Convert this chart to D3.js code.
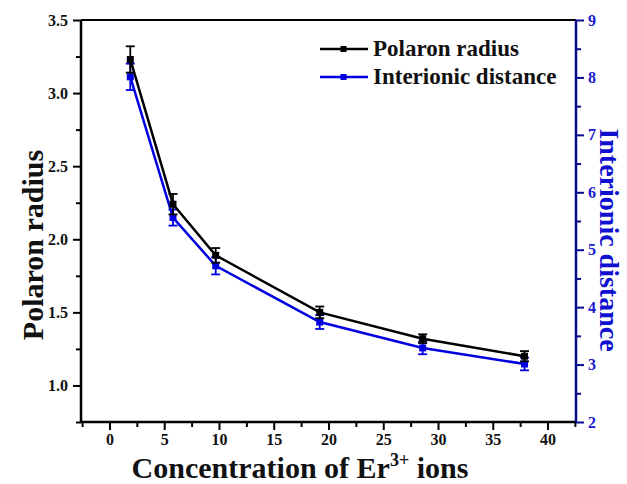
<!DOCTYPE html>
<html><head><meta charset="utf-8">
<script src="https://cdn.jsdelivr.net/npm/d3@7"></script>
<style>
body{margin:0;background:#fff;}
</style></head>
<body><svg id="c" width="627" height="484" font-family="'Liberation Serif', 'DejaVu Serif', serif" font-weight="bold"></svg>
<script>
const concentration = [1.9, 5.8, 9.7, 19.2, 28.6, 37.9];
const polaronRadius = [3.23, 2.24, 1.89, 1.50, 1.32, 1.20];
const polaronErr = [0.09, 0.07, 0.05, 0.04, 0.03, 0.035];
const interionicDist = [8.01, 5.56, 4.72, 3.74, 3.29, 3.01];
const interionicErr = [0.23, 0.14, 0.15, 0.12, 0.11, 0.11];
const xTicks = [0, 5, 10, 15, 20, 25, 30, 35, 40];
const yLeftTicks = [1.0, 1.5, 2.0, 2.5, 3.0, 3.5];
const yRightTicks = [2, 3, 4, 5, 6, 7, 8, 9];
const seriesNames = ["Polaron radius", "Interionic distance"];

const FONT = "'Liberation Serif', 'DejaVu Serif', serif";
const L = 81, R = 576, T = 20, B = 422;
const svg = d3.select("#c");
const x = d3.scaleLinear([-2.6, 42.6], [L, R]);
const yL = d3.scaleLinear([0.75, 3.5], [B, T]);
const yR = d3.scaleLinear([2, 9], [B, T]);
const navy = "#0a0a8c", blue = "#0000e0", black = "#000";

function styleAxis(g, color, tcolor, fs) {
  g.attr("font-family", FONT).attr("font-weight", "bold");
  g.select(".domain").remove();
  g.selectAll("line").attr("stroke", color).attr("stroke-width", 2);
  g.selectAll("text").attr("fill", tcolor).attr("font-family", FONT).attr("font-weight", "bold").attr("font-size", fs);
}
const xMinor = d3.range(-2.5, 43, 2.5).filter(v => v % 5 !== 0);
svg.append("g").attr("transform", `translate(0,${B})`)
  .call(d3.axisBottom(x).tickValues(xMinor).tickSize(5).tickFormat(""))
  .call(g => styleAxis(g, black, black, 15));
svg.append("g").attr("transform", `translate(0,${B})`)
  .call(d3.axisBottom(x).tickValues(xTicks).tickSize(8).tickPadding(4).tickFormat(d3.format("d")))
  .call(g => styleAxis(g, black, "#111", 16));
svg.append("g").attr("transform", `translate(${L},0)`)
  .call(d3.axisLeft(yL).tickValues([0.75,1.25,1.75,2.25,2.75,3.25]).tickSize(5).tickFormat(""))
  .call(g => styleAxis(g, black, black, 15));
svg.append("g").attr("transform", `translate(${L},0)`)
  .call(d3.axisLeft(yL).tickValues(yLeftTicks).tickSize(8).tickPadding(5).tickFormat(d3.format(".1f")))
  .call(g => styleAxis(g, black, "#111", 16));
svg.append("g").attr("transform", `translate(${R},0)`)
  .call(d3.axisRight(yR).tickValues(d3.range(2.5, 9, 1)).tickSize(5).tickFormat(""))
  .call(g => styleAxis(g, navy, navy, 15));
svg.append("g").attr("transform", `translate(${R},0)`)
  .call(d3.axisRight(yR).tickValues(yRightTicks).tickSize(8).tickPadding(4).tickFormat(d3.format("d")))
  .call(g => styleAxis(g, navy, "#1a1acc", 16));

// frame
svg.append("line").attr("x1", L).attr("x2", R).attr("y1", T).attr("y2", T).attr("stroke", black).attr("stroke-width", 2);
svg.append("line").attr("x1", L).attr("x2", R).attr("y1", B).attr("y2", B).attr("stroke", black).attr("stroke-width", 2.5);
svg.append("line").attr("x1", L).attr("x2", L).attr("y1", T).attr("y2", B).attr("stroke", black).attr("stroke-width", 2.5);
svg.append("line").attr("x1", R).attr("x2", R).attr("y1", T).attr("y2", B).attr("stroke", navy).attr("stroke-width", 2.5);

function drawSeries(vals, errs, y, color) {
  const pts = concentration.map((c, i) => ({x: c, y: vals[i], e: errs[i]}));
  svg.append("path").datum(pts).attr("fill", "none").attr("stroke", color).attr("stroke-width", 2.5)
    .attr("d", d3.line().x(d => x(d.x)).y(d => y(d.y)));
  const g = svg.append("g");
  pts.forEach(d => {
    const cx = x(d.x);
    g.append("line").attr("x1", cx).attr("x2", cx).attr("y1", y(d.y + d.e)).attr("y2", y(d.y - d.e)).attr("stroke", color).attr("stroke-width", 1.8);
    [d.y + d.e, d.y - d.e].forEach(v => g.append("line").attr("x1", cx - 4.5).attr("x2", cx + 4.5).attr("y1", y(v)).attr("y2", y(v)).attr("stroke", color).attr("stroke-width", 1.8));
    g.append("rect").attr("x", cx - 3.5).attr("y", y(d.y) - 3.5).attr("width", 7).attr("height", 7).attr("fill", color);
  });
}
drawSeries(interionicDist, interionicErr, yR, blue);
drawSeries(polaronRadius, polaronErr, yL, black);

// legend
const lg = svg.append("g");
[[black, 49], [blue, 77]].forEach(([c, ly], i) => {
  lg.append("line").attr("x1", 320).attr("x2", 368).attr("y1", ly).attr("y2", ly).attr("stroke", c).attr("stroke-width", 2.5);
  lg.append("rect").attr("x", 340.5).attr("y", ly - 3).attr("width", 6).attr("height", 6).attr("fill", c);
  lg.append("text").attr("x", 373).attr("y", ly + 7).attr("font-family", FONT).attr("font-weight", "bold")
    .attr("font-size", 23).attr("fill", "#111").text(seriesNames[i]);
});

// titles
svg.append("text").attr("transform", "translate(43,245) rotate(-90)").attr("text-anchor", "middle")
  .attr("font-family", FONT).attr("font-weight", "bold").attr("font-size", 30).attr("fill", "#111").text("Polaron radius");
svg.append("text").attr("transform", "translate(600,240) rotate(90)").attr("text-anchor", "middle")
  .attr("font-family", FONT).attr("font-weight", "bold").attr("font-size", 28).attr("fill", "#1010d0").text("Interionic distance");
const xt = svg.append("text").attr("x", 300).attr("y", 478).attr("text-anchor", "middle")
  .attr("font-family", FONT).attr("font-weight", "bold").attr("font-size", 30).attr("fill", "#111");
xt.append("tspan").text("Concentration of Er");
xt.append("tspan").attr("dy", -12).attr("font-size", 18).text("3+");
xt.append("tspan").attr("dy", 12).text(" ions");
</script></body></html>
